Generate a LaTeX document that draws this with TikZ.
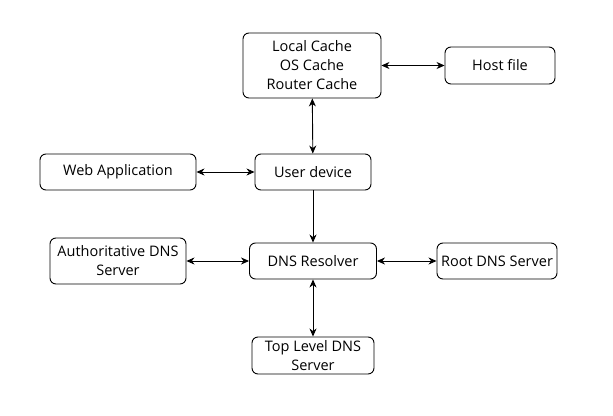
\documentclass[tikz,border=0pt]{standalone}
\usepackage{fontspec}
\setmainfont{Open Sans}
\usepackage{tikz}
\usetikzlibrary{positioning,arrows.meta}

\tikzset{
  box/.style={draw, rounded corners=6pt, align=center, inner sep=1pt, line width=0.9pt,
    font=\fontsize{14.5}{19}\selectfont},
  link/.style={line width=0.9pt},
}

\begin{document}
\begin{tikzpicture}[x=1pt, y=-1pt, >={Stealth[length=8pt,width=7pt,inset=2.5pt]}]
\useasboundingbox (0,0) rectangle (613,415);

\node[box, minimum width=138pt, minimum height=65pt] (cache) at (312,65.5) {Local Cache\\OS Cache\\Router Cache};
\node[box, minimum width=110pt, minimum height=37pt] (host) at (500,65.5) {Host file};
\node[box, minimum width=156pt, minimum height=36pt] (web) at (118,172) {Web Application};
\node[box, minimum width=116pt, minimum height=36pt] (user) at (313,172) {User device};
\node[box, minimum width=136pt, minimum height=46pt] (auth) at (118,261) {Authoritative DNS\\Server};
\node[box, minimum width=127pt, minimum height=36pt] (resolver) at (313,261) {DNS Resolver};
\node[box, minimum width=120pt, minimum height=36pt] (root) at (497,261) {Root DNS Server};
\node[box, minimum width=122pt, minimum height=37pt] (tld) at (313,355.5) {Top Level DNS\\Server};

\draw[link, <->] (cache) -- (host);
\draw[link, <->] (cache) -- (user);
\draw[link, <->] (web) -- (user);
\draw[link, ->] (user) -- (resolver);
\draw[link, <->] (auth) -- (resolver);
\draw[link, <->] (resolver) -- (root);
\draw[link, <->] (resolver) -- (tld);

\end{tikzpicture}
\end{document}
